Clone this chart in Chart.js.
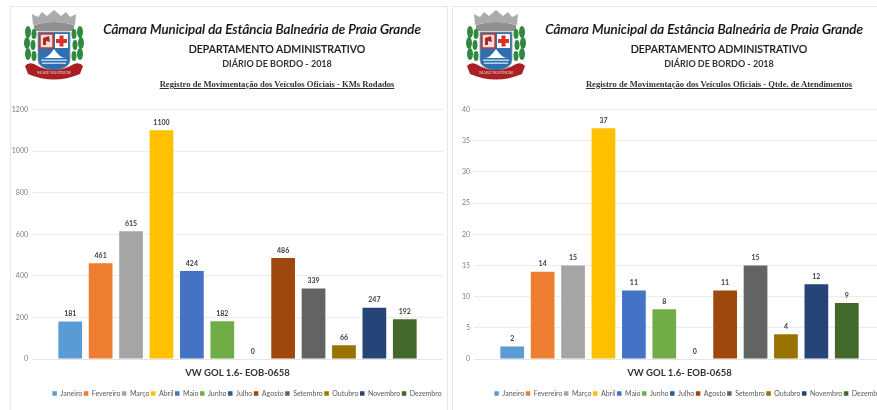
<!DOCTYPE html>
<html lang="pt">
<head>
<meta charset="utf-8">
<title>Diário de Bordo 2018</title>
<script src="https://cdn.jsdelivr.net/npm/chart.js@4"></script>
<style>
html, body { margin: 0; width: 877px; height: 410px; overflow: hidden; background: #fff; }
.panel { position: absolute; top: 6px; height: 410px; border: 1px solid #e6e6e6; box-sizing: border-box; overflow: hidden; filter: blur(.35px); }
#panelKm { left: 10px; width: 438px; }
#panelAt { left: 452px; width: 440px; }
.panel canvas { position: absolute; left: 0; top: 92px; }
.panel svg { position: absolute; left: 12px; top: 1px; }
.txt { position: absolute; white-space: nowrap; color: #1a1a1a; text-align: center; transform: translateX(-50%); }
.camara { left: 251px; top: 14px; font: italic 500 13.4px Lato, sans-serif; color: #111; -webkit-text-stroke: .2px #111; }
.depto { left: 266px; top: 36px; font: 500 10.6px Lato, sans-serif; -webkit-text-stroke: .2px #1a1a1a; }
.diario { left: 266px; top: 51px; font: bold 9px Lato, sans-serif; color: #333; }
.reg { left: 266px; top: 72px; font: bold 8.6px "Liberation Serif", serif; text-decoration: underline; color: #333; }
</style>
</head>
<body>
<svg width="0" height="0" style="position:absolute">
  <symbol id="brasao" viewBox="0 0 62 74">
    <path d="M10 17 L9 6 L15 9 L19 4 L24 8 L31 2 L38 8 L43 4 L47 9 L53 6 L52 17 Q31 11 10 17Z" fill="#ababab"/>
    <path d="M11 17 Q31 11 51 17 V23 H11Z" fill="#8f8f8f"/>
    <g fill="#2f8a3f">
      <ellipse cx="5" cy="24" rx="3" ry="6"/><ellipse cx="11" cy="26" rx="2.5" ry="5"/>
      <ellipse cx="4" cy="35" rx="3" ry="6"/><ellipse cx="10" cy="37" rx="2.5" ry="5"/>
      <ellipse cx="5" cy="46" rx="3" ry="6"/><ellipse cx="11" cy="48" rx="2.5" ry="5"/>
      <ellipse cx="57" cy="24" rx="3" ry="6"/><ellipse cx="51" cy="26" rx="2.5" ry="5"/>
      <ellipse cx="58" cy="35" rx="3" ry="6"/><ellipse cx="52" cy="37" rx="2.5" ry="5"/>
      <ellipse cx="57" cy="46" rx="3" ry="6"/><ellipse cx="51" cy="48" rx="2.5" ry="5"/>
    </g>
    <path d="M15 24 H47 V52 Q47 60 31 63 Q15 60 15 52Z" fill="#2f6fb0" stroke="#9a9a9a" stroke-width=".8"/>
    <rect x="17" y="26" width="13" height="14" fill="#e9e2dc" stroke="#c8372d" stroke-width="1.5"/>
    <path d="M20 37 L20 30 L26 28 L27 34 L23 33 L23 37Z" fill="#b3281e"/>
    <rect x="32" y="26" width="13" height="14" fill="#fff"/>
    <path d="M36.500 27.500 H40.500 V31 H44 V35 H40.500 V38.500 H36.500 V35 H33 V31 H36.500Z" fill="#d6322a"/>
    <path d="M20 50 Q25 50 31 41 Q37 50 42 50Z" fill="#fff"/>
    <rect x="18" y="51.500" width="26" height="1.400" fill="#bfe0f2"/>
    <rect x="19" y="54.500" width="24" height="1.400" fill="#bfe0f2"/>
    <path d="M2 58 Q5 54 11 56 Q31 68 51 56 Q57 54 60 58 L57 66 Q31 77 5 66Z" fill="#a81f24"/>
    <text x="31" y="65.500" font-family="Liberation Serif" font-size="4.200" fill="#f3dcdc" text-anchor="middle">MARE NOSTRUM</text>
  </symbol>
</svg>

<div class="panel" id="panelKm">
  <svg width="62" height="74"><use href="#brasao"/></svg>
  <div class="txt camara">Câmara Municipal da Estância Balneária de Praia Grande</div>
  <div class="txt depto">DEPARTAMENTO ADMINISTRATIVO</div>
  <div class="txt diario">DIÁRIO DE BORDO - 2018</div>
  <div class="txt reg">Registro de Movimentação dos Veículos Oficiais - KMs Rodados</div>
  <canvas id="chartKm" width="432" height="308"></canvas>
</div>
<div class="panel" id="panelAt">
  <svg width="62" height="74"><use href="#brasao"/></svg>
  <div class="txt camara">Câmara Municipal da Estância Balneária de Praia Grande</div>
  <div class="txt depto">DEPARTAMENTO ADMINISTRATIVO</div>
  <div class="txt diario">DIÁRIO DE BORDO - 2018</div>
  <div class="txt reg">Registro de Movimentação dos Veículos Oficiais - Qtde. de Atendimentos</div>
  <canvas id="chartAt" width="432" height="308"></canvas>
</div>

<script>
const meses = ['Janeiro', 'Fevereiro', 'Março', 'Abril', 'Maio', 'Junho', 'Julho', 'Agosto', 'Setembro', 'Outubro', 'Novembro', 'Dezembro'];
const cores = ['#5B9BD5', '#ED7D31', '#A5A5A5', '#FFC000', '#4472C4', '#70AD47', '#255E91', '#9E480E', '#636363', '#997300', '#264478', '#43682B'];
const veiculo = 'VW GOL 1.6- EOB-0658';
const kmRodados = [181, 461, 615, 1100, 424, 182, 0, 486, 339, 66, 247, 192];
const atendimentos = [2, 14, 15, 37, 11, 8, 0, 11, 15, 4, 12, 9];

// values above the bars, no datalabels plugin on the page
const rotulos = {
    id: 'rotulos',
    afterDatasetsDraw(chart) {
        const ctx = chart.ctx;
        ctx.save();
        ctx.font = 'bold 7px Lato, sans-serif';
        ctx.fillStyle = '#404040';
        ctx.textAlign = 'center';
        ctx.textBaseline = 'middle';
        chart.data.datasets.forEach((ds, i) => {
            const bar = chart.getDatasetMeta(i).data[0];
            ctx.fillText(ds.data[0], bar.x, bar.y - 7.5);
        });
        ctx.restore();
    }
};

// the legend sits further right than the canvas centre, as in the original
const moveLegenda = {
    id: 'moveLegenda',
    afterLayout(chart) {
        chart.legend.left += 20;
        chart.legend.right += 20;
    }
};

function desenha(id, valores, maximo, passo) {
    const datasets = meses.map((mes, i) => ({
        label: mes,
        data: [valores[i]],
        backgroundColor: cores[i]
    }));

    new Chart(document.getElementById(id), {
        type: 'bar',
        data: { labels: [veiculo], datasets: datasets },
        plugins: [rotulos, moveLegenda],
        options: {
            responsive: false,
            animation: false,
            layout: { padding: { top: 10.5, bottom: 0 } },
            datasets: { bar: { categoryPercentage: 0.888, barPercentage: 0.78 } },
            scales: {
                x: {
                    afterFit(scale) { scale.height += 10; },
                    grid: { display: false },
                    border: { color: '#e4e4e4' },
                    ticks: { color: '#333', font: { family: 'Lato', size: 9.5, weight: 'bold' }, padding: 0 }
                },
                y: {
                    min: 0,
                    max: maximo,
                    afterFit(scale) { scale.width = 21; },
                    grid: { color: '#ececec', drawTicks: false },
                    border: { display: false },
                    ticks: {
                        stepSize: passo,
                        callback: v => String(v),
                        color: '#7f7f7f',
                        font: { family: 'Lato', size: 7 },
                        padding: 4
                    }
                }
            },
            plugins: {
                tooltip: { enabled: false },
                legend: {
                    position: 'bottom',
                    labels: {
                        boxWidth: 4.5,
                        boxHeight: 4.5,
                        padding: 1.5,
                        color: '#595959',
                        font: { family: 'Lato', size: 7 }
                    }
                }
            }
        }
    });
}

desenha('chartKm', kmRodados, 1200, 200);
desenha('chartAt', atendimentos, 40, 5);
</script>
</body>
</html>
